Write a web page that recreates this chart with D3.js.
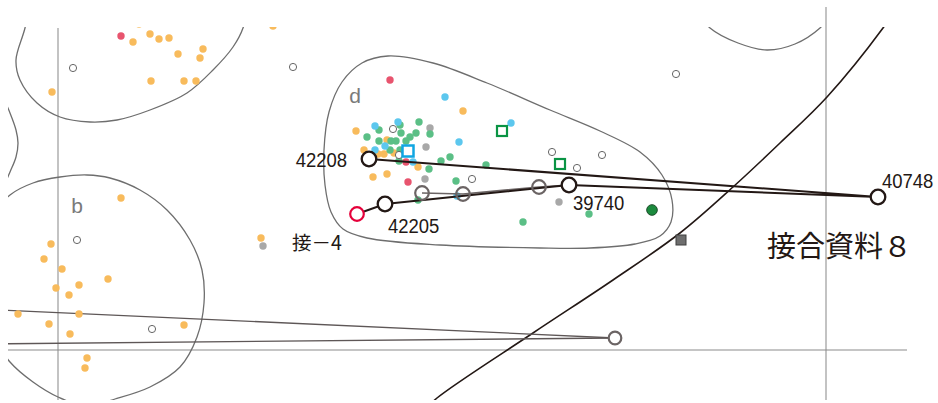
<!DOCTYPE html>
<html>
<head>
<meta charset="utf-8">
<script src="https://cdn.jsdelivr.net/npm/d3@7"></script>
<style>
  html, body { margin: 0; padding: 0; background: #fff; }
  svg { display: block; }
</style>
</head>
<body>
<svg id="chart" width="938" height="403"></svg>
<script>
// Discriminant scores: [axis 1, axis 2]

// group A (orange)
const orangeDots = [
  [7.5, 30.8], [9.2, 31.6], [10.1, 31.1], [11.1, 31.2], [12.0, 29.6], [14.5, 30.1],
  [14.2, 29.2], [9.3, 26.9], [12.6, 26.9], [13.8, 26.9], [-0.6, 25.8], [8.1, 32.6],
  [12.3, 32.7], [21.5, 32.4],
  [6.3, 15.2], [-0.7, 10.6], [-1.4, 9.1], [0.4, 8.1], [5.0, 7.1], [-0.2, 6.2],
  [2.1, 6.5], [1.1, 5.5], [-4.0, 3.6], [2.1, 3.6], [-0.9, 2.6], [1.2, 1.6],
  [12.6, 2.5], [2.9, -0.8], [2.7, -1.8],
  [20.3, 11.2],
  [40.5, 23.9], [29.8, 21.9], [32.9, 21.0], [30.6, 20.0], [32.0, 19.6], [32.6, 19.6],
  [33.6, 19.7], [36.0, 18.3], [31.5, 17.3], [32.9, 17.6]
];
// group B (pink)
const pinkDots = [[6.3, 31.4], [33.2, 27.0], [34.8, 18.8], [35.0, 16.8]];
// group C (light blue)
const cyanDots = [
  [38.7, 25.3], [45.3, 22.7], [31.7, 22.4], [34.0, 22.8], [32.7, 20.4], [31.7, 20.0],
  [35.5, 18.8], [40.1, 20.8], [39.9, 15.4]
];
// group D (green)
const greenDots = [
  [32.1, 22.0], [34.2, 22.5], [36.1, 22.8], [37.2, 21.6], [30.9, 21.3], [32.1, 20.9],
  [33.3, 20.9], [33.8, 20.9], [34.3, 21.7], [35.2, 21.3], [35.8, 21.7], [34.8, 20.9],
  [33.2, 20.0], [34.2, 20.0], [34.1, 18.9], [37.1, 18.1], [38.3, 18.9], [39.2, 19.3],
  [42.8, 18.5], [39.8, 16.9], [46.5, 12.8], [53.1, 13.6], [36.0, 15.0]
];
// group E (grey)
const greyDots = [[37.2, 22.2], [36.8, 20.3], [36.7, 17.1], [50.1, 14.8], [20.5, 10.4]];
// other sources (small open circles)
const openDots = [
  [1.5, 28.2], [23.5, 28.3], [61.8, 27.6], [1.9, 11.0], [9.4, 2.1], [33.5, 22.1],
  [34.1, 19.5], [41.4, 17.1], [49.4, 19.8], [54.4, 19.5], [51.9, 18.2]
];
const greenSquares = [[44.4, 21.9], [50.2, 18.6]];
const blueSquares = [[35.0, 19.9]];
const darkGreenDots = [[59.4, 14.0]];
const darkSquares = [[62.3, 11.0]];

// refitted artefacts of 接合資料８
const sampleIds = ["42208", "40748", "39740", "42205"];
const samplePts = [[31.1, 19.1], [82.0, 15.3], [51.1, 16.5], [32.7, 14.6]];
const redSample = [29.9, 13.6];
const greyTrack = [[36.4, 15.7], [40.5, 15.6], [48.1, 16.3], [51.1, 16.5]];
const lowerTrackEnd = [55.7, 1.2];
const lowerTrackStarts = [[-7.8, 4.1], [-7.8, 0.6]];

// group boundary contours
const contourTopLeft = [
  [-2.3, 37.0], [-3.3, 32.2], [-4.2, 29.0], [-3.8, 27.0], [-2.1, 24.7], [0.2, 23.3],
  [3.2, 22.8], [5.9, 23.0], [9.2, 24.0], [12.9, 25.7], [15.5, 28.0], [17.5, 30.3],
  [18.5, 32.2], [19.2, 36.0], [8.2, 39.0]
];
const contourLeftEdge = [
  [-5.6, 25.5], [-4.8, 23.7], [-4.2, 22.0], [-4.0, 20.7], [-4.2, 19.3], [-4.8, 17.8], [-5.6, 16.0]
];
const contourB = [
  [-4.8, 15.5], [-2.5, 16.7], [0.2, 17.3], [2.9, 17.5], [5.2, 17.2], [8.2, 16.0],
  [10.9, 14.0], [13.2, 11.0], [14.4, 8.0], [14.6, 4.7], [13.9, 1.3], [12.2, -1.7],
  [9.2, -3.7], [5.7, -4.9], [2.8, -5.6], [0.0, -4.7], [-2.5, -3.2], [-4.8, -1.2],
  [-6.8, 2.0], [-8.0, 7.0], [-7.6, 12.0]
];
const contourD = [
  [33.0, 29.4], [37.5, 28.7], [42.9, 26.7], [49.2, 24.0], [54.2, 21.9], [58.2, 19.8],
  [60.4, 17.5], [61.4, 15.0], [61.3, 12.8], [60.2, 11.4], [57.7, 10.6], [53.2, 10.2],
  [48.2, 10.2], [38.2, 10.5], [30.9, 11.2], [28.5, 12.1], [27.3, 13.8], [26.7, 16.5],
  [26.6, 20.0], [27.1, 23.8], [28.4, 26.8], [30.4, 28.7]
];
const contourTopRight = [
  [64.2, 33.5], [65.2, 32.2], [68.0, 30.7], [70.9, 30.0], [73.7, 30.6], [76.2, 32.2], [77.0, 33.2]
];
const boundaryCurve = [
  [83.7, 34.0], [82.5, 32.2], [76.9, 25.3], [72.2, 20.7], [67.5, 16.3], [62.2, 11.7],
  [55.5, 7.0], [47.5, 1.7], [37.9, -4.8], [36.7, -6.0]
];

const groupLabels = [{ text: "d", at: [29.7, 24.7] }, { text: "b", at: [1.9, 13.7] }];

// ---------------------------------------------------------------
const W = 938, H = 403;
const x = d3.scaleLinear().domain([-5.8, 88.0]).range([0, W]);
const y = d3.scaleLinear().domain([-5.3, 35.0]).range([H, 0]);

const svg = d3.select("#chart");
const INK = "#231815";
const CJK = "'Noto Sans CJK JP', 'Noto Sans', sans-serif";

svg.append("defs").append("clipPath").attr("id", "plot")
  .append("rect")
  .attr("x", x(-5.0)).attr("y", y(32.3))
  .attr("width", x(85.0) - x(-5.0)).attr("height", y(-5.0) - y(32.3));

// reference axes
const axes = svg.append("g");
axes.append("line").attr("x1", x(0)).attr("x2", x(0)).attr("y1", y(32.2)).attr("y2", y(-5.0))
  .attr("stroke", "#a3a3a3").attr("stroke-width", 1.3);
axes.append("line").attr("x1", x(76.8)).attr("x2", x(76.8)).attr("y1", y(34.3)).attr("y2", y(-5.0))
  .attr("stroke", "#a3a3a3").attr("stroke-width", 1.3);
axes.append("line").attr("x1", x(-5.0)).attr("x2", x(84.9)).attr("y1", y(0)).attr("y2", y(0))
  .attr("stroke", "#8c8c8c").attr("stroke-width", 1.2);

const plot = svg.append("g").attr("clip-path", "url(#plot)");

const closed = d3.line().x(d => x(d[0])).y(d => y(d[1])).curve(d3.curveCatmullRomClosed.alpha(0.5));
const open = d3.line().x(d => x(d[0])).y(d => y(d[1])).curve(d3.curveCatmullRom.alpha(0.5));
const straight = d3.line().x(d => x(d[0])).y(d => y(d[1]));

[contourTopLeft, contourB, contourD].forEach(c => {
  plot.append("path").attr("d", closed(c)).attr("fill", "none")
    .attr("stroke", "#6e6e6e").attr("stroke-width", 1.3);
});
[contourLeftEdge, contourTopRight].forEach(c => {
  plot.append("path").attr("d", open(c)).attr("fill", "none")
    .attr("stroke", "#6e6e6e").attr("stroke-width", 1.3);
});
plot.append("path").attr("d", open(boundaryCurve)).attr("fill", "none")
  .attr("stroke", INK).attr("stroke-width", 1.6);

// group letters
svg.selectAll("text.grp").data(groupLabels).join("text").attr("class", "grp")
  .attr("x", d => x(d.at[0])).attr("y", d => y(d.at[1]))
  .attr("text-anchor", "middle")
  .attr("font-family", "'Liberation Sans', Arial, sans-serif").attr("font-size", 21)
  .attr("fill", "#7a7a7a").text(d => d.text);

// lower track (lines leaving the frame on the left)
lowerTrackStarts.forEach(s => {
  plot.append("path").attr("d", straight([s, lowerTrackEnd])).attr("fill", "none")
    .attr("stroke", "#5e5757").attr("stroke-width", 1.3);
});

// scatter groups
const dotR = 3.7;
function dots(data, color) {
  plot.append("g").selectAll("circle").data(data).join("circle")
    .attr("cx", d => x(d[0])).attr("cy", d => y(d[1])).attr("r", dotR).attr("fill", color);
}
dots(orangeDots, "#f8bb5c");
dots(pinkDots, "#e8546e");
dots(greyDots, "#a8a8a8");
dots(greenDots, "#5bbf86");
dots(cyanDots, "#5cc7ee");

plot.append("g").selectAll("circle").data(openDots).join("circle")
  .attr("cx", d => x(d[0])).attr("cy", d => y(d[1])).attr("r", 3.6)
  .attr("fill", "#fff").attr("stroke", "#666").attr("stroke-width", 1);

plot.append("g").selectAll("rect").data(greenSquares).join("rect")
  .attr("x", d => x(d[0]) - 5).attr("y", d => y(d[1]) - 5).attr("width", 10).attr("height", 10)
  .attr("fill", "#fff").attr("stroke", "#0a9444").attr("stroke-width", 2.2);
plot.append("g").selectAll("rect").data(blueSquares).join("rect")
  .attr("x", d => x(d[0]) - 5.5).attr("y", d => y(d[1]) - 5.5).attr("width", 11).attr("height", 11)
  .attr("fill", "#fff").attr("stroke", "#10a6e2").attr("stroke-width", 2.5);
plot.append("g").selectAll("circle").data(darkGreenDots).join("circle")
  .attr("cx", d => x(d[0])).attr("cy", d => y(d[1])).attr("r", 5.3)
  .attr("fill", "#1b8a3d").attr("stroke", "#1d4d2a").attr("stroke-width", 1);
plot.append("g").selectAll("rect").data(darkSquares).join("rect")
  .attr("x", d => x(d[0]) - 5).attr("y", d => y(d[1]) - 5).attr("width", 10).attr("height", 10)
  .attr("fill", "#6e6e6e").attr("stroke", "#3e3e3e").attr("stroke-width", 1);

// refit links
const byId = Object.fromEntries(sampleIds.map((id, i) => [id, samplePts[i]]));
plot.append("path").attr("d", straight(greyTrack)).attr("fill", "none")
  .attr("stroke", "#6b6464").attr("stroke-width", 1.6);
const blackTrack = [redSample, byId["42205"], byId["39740"], byId["40748"], byId["42208"]];
plot.append("path").attr("d", straight(blackTrack)).attr("fill", "none")
  .attr("stroke", INK).attr("stroke-width", 2);

plot.append("g").selectAll("circle").data(greyTrack.slice(0, 3)).join("circle")
  .attr("cx", d => x(d[0])).attr("cy", d => y(d[1])).attr("r", 6.8)
  .attr("fill", "#fff").attr("fill-opacity", 0).attr("stroke", "#6b6464").attr("stroke-width", 2.2);
plot.append("circle").attr("cx", x(lowerTrackEnd[0])).attr("cy", y(lowerTrackEnd[1])).attr("r", 6.3)
  .attr("fill", "#fff").attr("stroke", "#6b6464").attr("stroke-width", 2.2);
plot.append("circle").attr("cx", x(redSample[0])).attr("cy", y(redSample[1])).attr("r", 6.8)
  .attr("fill", "#fff").attr("stroke", "#e5003a").attr("stroke-width", 2.2);
plot.append("g").selectAll("circle").data(samplePts).join("circle")
  .attr("cx", d => x(d[0])).attr("cy", d => y(d[1])).attr("r", 7.3)
  .attr("fill", "#fff").attr("stroke", INK).attr("stroke-width", 2.3);

// sample id labels: [dx, dy, anchor]
const labelPlacement = {
  "42208": [-22, 8, "end"],
  "40748": [4, -9, "start"],
  "39740": [4, 25, "start"],
  "42205": [3, 29, "start"]
};
sampleIds.forEach((id, i) => {
  const p = samplePts[i], o = labelPlacement[id];
  svg.append("text")
    .attr("transform", `translate(${x(p[0]) + o[0]},${y(p[1]) + o[1]}) scale(0.88,1)`)
    .attr("text-anchor", o[2])
    .attr("font-family", "'Liberation Sans', Arial, sans-serif").attr("font-size", 21)
    .attr("fill", INK).text(id);
});

// annotations
svg.append("text").attr("x", x(23.4)).attr("y", y(10.0))
  .attr("font-family", CJK).attr("font-size", 19.5).attr("fill", INK).text("接－4");
svg.append("text").attr("x", x(70.9)).attr("y", y(9.3))
  .attr("font-family", CJK).attr("font-size", 29).attr("fill", INK).text("接合資料８");
</script>
</body>
</html>
